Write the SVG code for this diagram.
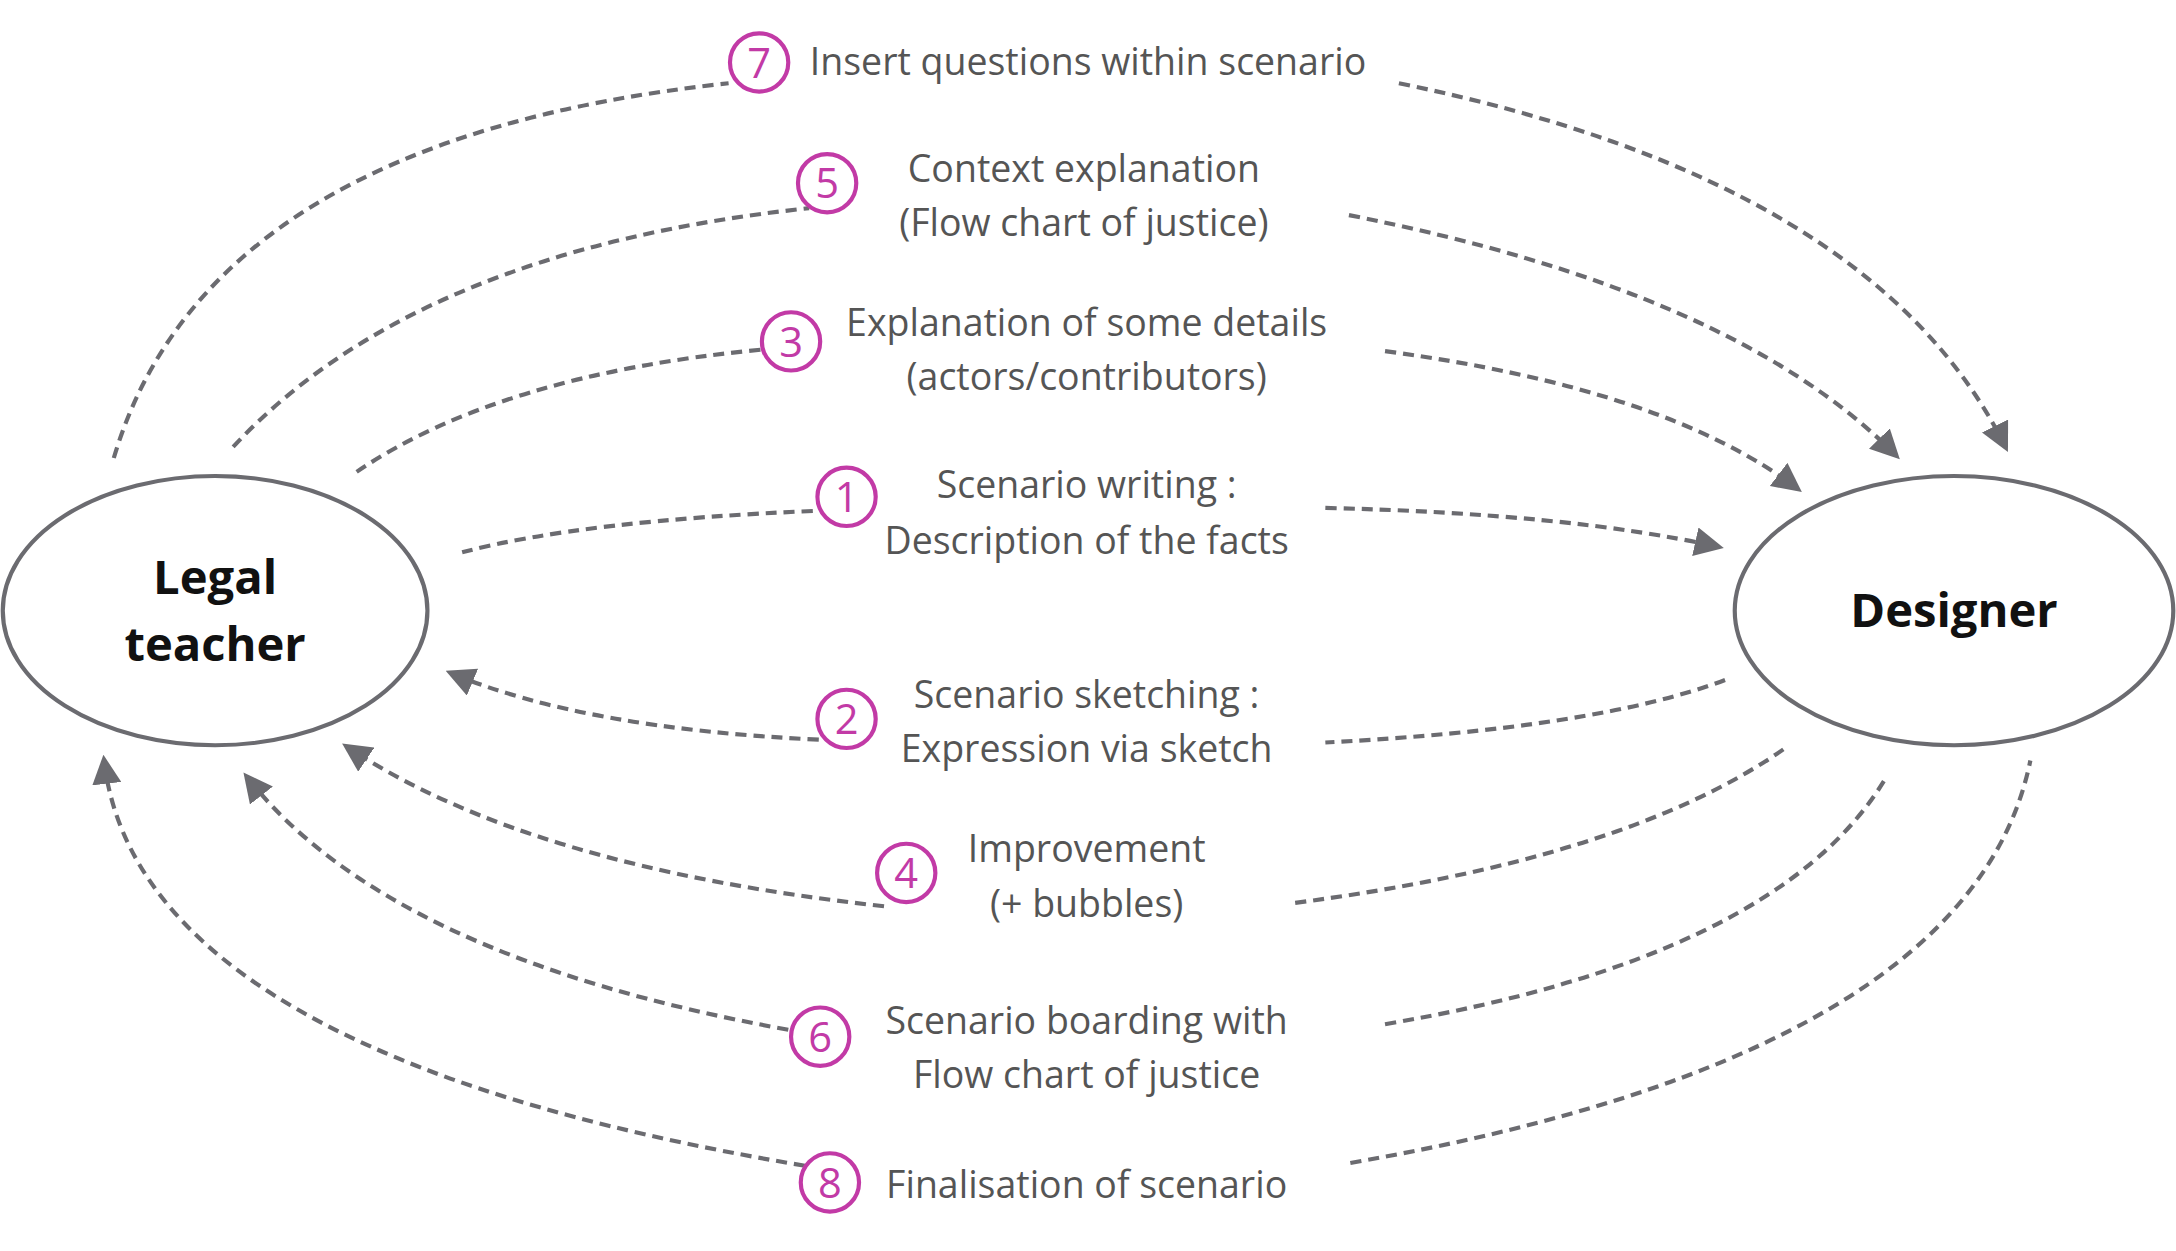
<svg xmlns="http://www.w3.org/2000/svg" width="2176" height="1251" viewBox="0 0 2176 1251">
<style>
.c{fill:none;stroke:#6b6b70;stroke-width:3;stroke-dasharray:8 5}
.n{fill:#fff;stroke:#6b6b70;stroke-width:3}
.nt{font-family:"Open Sans","Liberation Sans",sans-serif;font-weight:bold;font-size:34px;fill:#111;text-anchor:middle}
.t{font-family:"Open Sans","Liberation Sans",sans-serif;font-size:27px;fill:#555;text-anchor:middle}
.b{fill:#fff;stroke:#c23aa6;stroke-width:3}
.bt{font-family:"Open Sans","Liberation Sans",sans-serif;font-size:30px;fill:#c23aa6;text-anchor:middle}
</style>
<defs>
<marker id="m" viewBox="0 0 10 10" refX="8" refY="5" markerWidth="7" markerHeight="7" orient="auto"><path d="M0,0L10,5L0,10z" fill="#6b6b70"/></marker></defs>
<rect width="2176" height="1251" fill="#fff"/>
<g transform="scale(1.3878)">
<g id="connectors">
<path class="c" d="M82,330 Q150,100 525,60"/><path class="c" d="M1008,60 Q1350,130 1445,322" marker-end="url(#m)"/>
<path class="c" d="M168,322 Q300,180 583,150"/><path class="c" d="M972,155 Q1250,210 1366,328" marker-end="url(#m)"/>
<path class="c" d="M257,340 Q360,270 548,252"/><path class="c" d="M998,253 Q1200,280 1295,352" marker-end="url(#m)"/>
<path class="c" d="M333,398 Q420,375 590,368"/><path class="c" d="M955,366 Q1130,370 1238,394" marker-end="url(#m)"/>
<path class="c" d="M1243,490 Q1150,525 955,535"/><path class="c" d="M590,533 Q420,525 325,485" marker-end="url(#m)"/>
<path class="c" d="M1285,540 Q1170,620 930,651"/><path class="c" d="M637,653 Q380,625 250,538" marker-end="url(#m)"/>
<path class="c" d="M998,738 Q1280,690 1358,562"/><path class="c" d="M568,742 Q280,690 178,560" marker-end="url(#m)"/>
<path class="c" d="M973,838 Q1420,760 1463,548"/><path class="c" d="M580,840 Q100,760 75,548" marker-end="url(#m)"/>
</g>
<g id="legal"><ellipse class="n" cx="155" cy="440" rx="153" ry="97"/><text class="nt" x="155" y="428">Legal</text><text class="nt" x="155" y="476">teacher</text></g>
<g id="designer"><ellipse class="n" cx="1408" cy="440" rx="158" ry="97"/><text class="nt" x="1408" y="452">Designer</text></g>
<g id="s7"><circle class="b" cx="547" cy="45" r="21"/><text class="bt" x="547" y="56">7</text><text class="t" x="784" y="54">Insert questions within scenario</text></g>
<g id="s5"><circle class="b" cx="596" cy="132" r="21"/><text class="bt" x="596" y="143">5</text><text class="t" x="781" y="131">Context explanation</text><text class="t" x="781" y="170">(Flow chart of justice)</text></g>
<g id="s3"><circle class="b" cx="570" cy="246" r="21"/><text class="bt" x="570" y="257">3</text><text class="t" x="783" y="242">Explanation of some details</text><text class="t" x="783" y="281">(actors/contributors)</text></g>
<g id="s1"><circle class="b" cx="610" cy="358" r="21"/><text class="bt" x="610" y="369">1</text><text class="t" x="783" y="359">Scenario writing :</text><text class="t" x="783" y="399">Description of the facts</text></g>
<g id="s2"><circle class="b" cx="610" cy="518" r="21"/><text class="bt" x="610" y="529">2</text><text class="t" x="783" y="510">Scenario sketching :</text><text class="t" x="783" y="549">Expression via sketch</text></g>
<g id="s4"><circle class="b" cx="653" cy="629" r="21"/><text class="bt" x="653" y="640">4</text><text class="t" x="783" y="621">Improvement</text><text class="t" x="783" y="661">(+ bubbles)</text></g>
<g id="s6"><circle class="b" cx="591" cy="747" r="21"/><text class="bt" x="591" y="758">6</text><text class="t" x="783" y="745">Scenario boarding with</text><text class="t" x="783" y="784">Flow chart of justice</text></g>
<g id="s8"><circle class="b" cx="598" cy="852" r="21"/><text class="bt" x="598" y="863">8</text><text class="t" x="783" y="863">Finalisation of scenario</text></g>
</g>
</svg>
